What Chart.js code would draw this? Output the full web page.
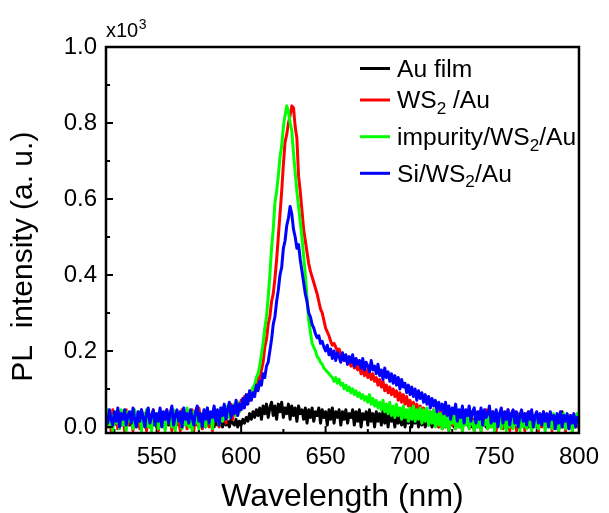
<!DOCTYPE html>
<html>
<head>
<meta charset="utf-8">
<title>PL spectra</title>
<script src="https://cdn.jsdelivr.net/npm/chart.js@4.4.1/dist/chart.umd.min.js"></script>
<style>
    body { margin: 0; background: #fff; }
    #wrap { width: 609px; height: 513px; }
</style>
</head>
<body>
<div id="wrap"><canvas id="pl" width="609" height="513"></canvas></div>
<script>
// длина волны, нм (шаг 1 нм)
const wavelengths = Array.from({ length: 281 }, (_, i) => 520 + i)

// интенсивность, x10^3 (по 10 нм в строке)
const auFilm = [
    0.01, 0.02, 0.0, 0.015, 0.005, 0.02, 0.01, 0.0, 0.015, 0.005,
    0.02, 0.0, 0.01, 0.02, 0.005, 0.015, 0.0, 0.02, 0.01, 0.005,
    0.015, 0.0, 0.02, 0.005, 0.015, 0.01, 0.0, 0.02, 0.005, 0.015,
    0.0, 0.02, 0.01, 0.005, 0.015, 0.0, 0.02, 0.005, 0.015, 0.01,
    0.0, 0.015, 0.02, 0.005, 0.01, 0.0, 0.02, 0.01, 0.005, 0.015,
    0.0, 0.02, 0.005, 0.015, 0.01, 0.0, 0.02, 0.005, 0.015, 0.0,
    0.02, 0.01, 0.005, 0.015, 0.0, 0.02, 0.005, 0.015, 0.01, 0.0,
    0.02, 0.005, 0.015, 0.0, 0.02, 0.01, 0.005, 0.02, 0.0, 0.015,
    0.005, 0.02, 0.01, 0.025, 0.015, 0.035, 0.02, 0.04, 0.025, 0.045,
    0.03, 0.05, 0.02, 0.055, 0.035, 0.06, 0.025, 0.05, 0.065, 0.03,
    0.055, 0.02, 0.06, 0.04, 0.065, 0.025, 0.05, 0.035, 0.06, 0.02,
    0.055, 0.03, 0.05, 0.015, 0.055, 0.035, 0.045, 0.02, 0.05, 0.01,
    0.045, 0.025, 0.05, 0.015, 0.04, 0.03, 0.05, 0.01, 0.045, 0.025,
    0.04, 0.005, 0.045, 0.02, 0.05, 0.01, 0.04, 0.025, 0.045, 0.005,
    0.04, 0.02, 0.045, 0.01, 0.035, 0.025, 0.045, 0.005, 0.04, 0.015,
    0.045, 0.0, 0.035, 0.02, 0.04, 0.005, 0.045, 0.015, 0.035, 0.0,
    0.04, 0.015, 0.035, 0.005, 0.045, 0.01, 0.035, 0.0, 0.04, 0.015,
    0.03, 0.0, 0.035, 0.01, 0.03, 0.005, 0.035, 0.0, 0.03, 0.01,
    0.035, 0.0, 0.025, 0.01, 0.03, 0.0, 0.025, 0.005, 0.03, 0.0,
    0.02, 0.005, 0.025, 0.0, 0.02, 0.005, 0.015, 0.0, 0.02, 0.005,
    0.015, 0.0, 0.01, 0.02, 0.005, 0.015, 0.0, 0.01, 0.02, 0.005,
    0.015, 0.0, 0.02, 0.01, 0.005, 0.015, 0.0, 0.02, 0.005, 0.01,
    0.0, 0.015, 0.02, 0.005, 0.01, 0.0, 0.015, 0.005, 0.02, 0.01,
    0.0, 0.015, 0.005, 0.02, 0.01, 0.0, 0.015, 0.02, 0.005, 0.01,
    0.0, 0.02, 0.01, 0.005, 0.015, 0.0, 0.02, 0.005, 0.015, 0.01,
    0.0, 0.015, 0.02, 0.005, 0.01, 0.0, 0.02, 0.01, 0.005, 0.015,
    0.0, 0.02, 0.005, 0.015, 0.01, 0.0, 0.015, 0.005, 0.02, 0.0,
    0.04, 0.01, 0.015, 0.0, 0.02, 0.005, 0.015, 0.0, 0.02, 0.01,
    0.005
]
const ws2Au = [
    0.04, 0.0, 0.03, -0.01, 0.045, 0.015, 0.035, -0.005, 0.04, 0.01,
    0.03, -0.01, 0.045, 0.005, 0.035, 0.02, -0.01, 0.04, 0.01, 0.03,
    -0.005, 0.045, 0.01, 0.035, -0.01, 0.04, 0.02, 0.0, 0.045, 0.01,
    0.03, -0.01, 0.04, 0.005, 0.035, -0.005, 0.045, 0.015, 0.03, -0.01,
    0.04, 0.0, 0.035, 0.015, -0.01, 0.045, 0.005, 0.03, -0.005, 0.04,
    0.01, 0.045, -0.01, 0.035, 0.005, 0.05, 0.02, -0.005, 0.04, 0.01,
    0.045, 0.0, 0.035, -0.01, 0.05, 0.015, 0.04, 0.0, 0.045, 0.02,
    0.055, 0.01, 0.045, 0.025, 0.06, 0.02, 0.055, 0.035, 0.065, 0.04,
    0.07, 0.05, 0.08, 0.06, 0.085, 0.07, 0.095, 0.085, 0.11, 0.105,
    0.13, 0.12, 0.15, 0.17, 0.21, 0.23, 0.27, 0.29, 0.33, 0.35,
    0.39, 0.44, 0.50, 0.56, 0.62, 0.69, 0.75, 0.77, 0.80, 0.82,
    0.845, 0.84, 0.79, 0.76, 0.66, 0.62, 0.57, 0.52, 0.49, 0.46,
    0.43, 0.41, 0.395, 0.38, 0.365, 0.35, 0.33, 0.31, 0.30, 0.28,
    0.26, 0.25, 0.24, 0.225, 0.215, 0.22, 0.21, 0.20, 0.205, 0.19,
    0.19, 0.175, 0.185, 0.165, 0.175, 0.16, 0.17, 0.155, 0.165, 0.15,
    0.16, 0.14, 0.155, 0.135, 0.15, 0.13, 0.145, 0.125, 0.14, 0.12,
    0.13, 0.11, 0.125, 0.105, 0.12, 0.095, 0.11, 0.09, 0.105, 0.085,
    0.10, 0.08, 0.095, 0.07, 0.09, 0.065, 0.085, 0.06, 0.08, 0.055,
    0.07, 0.045, 0.065, 0.04, 0.06, 0.035, 0.055, 0.03, 0.05, 0.025,
    0.045, 0.015, 0.04, 0.01, 0.045, 0.005, 0.035, 0.0, 0.04, -0.005,
    0.035, 0.01, 0.04, -0.01, 0.03, 0.005, 0.035, -0.005, 0.04, 0.0,
    0.03, -0.01, 0.035, 0.01, 0.04, -0.005, 0.03, 0.015, -0.01, 0.035,
    0.005, 0.04, -0.01, 0.03, 0.01, 0.045, -0.005, 0.035, 0.0, 0.04,
    0.015, -0.01, 0.035, 0.005, 0.04, -0.005, 0.03, 0.01, 0.045, -0.01,
    0.03, 0.005, 0.04, -0.01, 0.035, 0.0, 0.03, 0.01, -0.01, 0.035,
    0.005, 0.04, -0.005, 0.03, 0.01, 0.035, -0.01, 0.03, 0.0, 0.04,
    -0.005, 0.03, 0.01, 0.035, -0.01, 0.025, 0.005, 0.03, -0.01, 0.035,
    0.0, 0.03, -0.01, 0.025, 0.005, 0.03, -0.01, 0.025, 0.0, 0.03,
    -0.005
]
const impurityWs2Au = [
    0.02, 0.045, 0.0, 0.03, -0.01, 0.04, 0.01, 0.035, -0.005, 0.045,
    0.005, 0.03, -0.01, 0.04, 0.015, 0.035, -0.005, 0.045, 0.0, 0.03,
    0.04, -0.01, 0.035, 0.01, 0.045, 0.0, 0.03, -0.01, 0.04, 0.015,
    0.035, -0.005, 0.045, 0.005, 0.03, -0.01, 0.04, 0.01, 0.035, 0.0,
    0.045, -0.01, 0.03, 0.015, 0.04, -0.005, 0.035, 0.005, 0.05, 0.0,
    0.03, -0.01, 0.04, 0.01, 0.045, -0.005, 0.035, 0.015, 0.04, 0.0,
    0.05, 0.01, 0.035, -0.005, 0.045, 0.02, 0.04, 0.005, 0.05, 0.015,
    0.045, 0.02, 0.055, 0.025, 0.05, 0.035, 0.06, 0.03, 0.065, 0.04,
    0.055, 0.07, 0.06, 0.08, 0.075, 0.09, 0.085, 0.105, 0.11, 0.13,
    0.14, 0.16, 0.19, 0.22, 0.26, 0.29, 0.34, 0.40, 0.47, 0.52,
    0.59, 0.62, 0.66, 0.71, 0.74, 0.79, 0.82, 0.845, 0.83, 0.80,
    0.78, 0.72, 0.67, 0.62, 0.58, 0.54, 0.50, 0.45, 0.40, 0.34,
    0.28, 0.25, 0.22, 0.21, 0.20, 0.185, 0.18, 0.17, 0.165, 0.155,
    0.15, 0.145, 0.14, 0.135, 0.13, 0.12, 0.13, 0.115, 0.125, 0.11,
    0.115, 0.10, 0.11, 0.095, 0.105, 0.09, 0.10, 0.085, 0.095, 0.08,
    0.09, 0.075, 0.085, 0.07, 0.08, 0.065, 0.085, 0.06, 0.075, 0.055,
    0.07, 0.05, 0.065, 0.045, 0.07, 0.04, 0.06, 0.035, 0.065, 0.03,
    0.055, 0.025, 0.06, 0.03, 0.05, 0.02, 0.055, 0.025, 0.045, 0.015,
    0.05, 0.02, 0.055, 0.015, 0.045, 0.02, 0.05, 0.01, 0.045, 0.015,
    0.05, 0.005, 0.04, 0.01, 0.045, 0.0, 0.04, 0.005, 0.035, -0.005,
    0.03, 0.0, 0.035, -0.01, 0.025, 0.01, 0.03, -0.005, 0.035, 0.0,
    0.025, -0.01, 0.03, 0.005, 0.035, -0.005, 0.025, 0.01, -0.01, 0.03,
    0.0, 0.035, -0.01, 0.025, 0.005, 0.03, -0.005, 0.035, 0.0, 0.025,
    -0.01, 0.03, 0.005, 0.035, -0.005, 0.025, 0.01, -0.01, 0.03, 0.0,
    0.035, -0.005, 0.025, 0.005, 0.03, -0.01, 0.025, 0.0, 0.035, -0.005,
    0.03, 0.005, -0.01, 0.03, 0.0, 0.035, -0.005, 0.025, 0.01, 0.03,
    -0.01, 0.025, 0.0, 0.03, -0.005, 0.035, 0.005, 0.03, -0.01, 0.025,
    0.0, 0.035, -0.005, 0.03, 0.005, 0.025, -0.01, 0.03, 0.0, 0.035,
    0.005
]
const siWs2Au = [
    0.03, 0.01, 0.045, 0.02, 0.005, 0.04, 0.015, 0.05, 0.0, 0.035,
    0.02, 0.045, 0.005, 0.03, 0.04, 0.01, 0.05, 0.02, 0.0, 0.04,
    0.015, 0.045, 0.025, 0.0, 0.035, 0.05, 0.01, 0.03, 0.045, 0.005,
    0.035, 0.015, 0.05, 0.0, 0.04, 0.02, 0.045, 0.01, 0.035, 0.055,
    0.005, 0.03, 0.045, 0.015, 0.04, 0.0, 0.05, 0.02, 0.035, 0.01,
    0.045, 0.025, 0.005, 0.04, 0.055, 0.015, 0.035, 0.0, 0.045, 0.02,
    0.05, 0.01, 0.04, 0.025, 0.055, 0.015, 0.045, 0.005, 0.05, 0.03,
    0.06, 0.02, 0.045, 0.065, 0.025, 0.055, 0.035, 0.07, 0.03, 0.06,
    0.045, 0.075, 0.05, 0.085, 0.06, 0.095, 0.07, 0.09, 0.08, 0.11,
    0.095, 0.12, 0.11, 0.14, 0.13, 0.16, 0.17, 0.20, 0.23, 0.27,
    0.29, 0.33, 0.36, 0.40, 0.42, 0.47, 0.49, 0.53, 0.55, 0.58,
    0.56, 0.52, 0.50, 0.47, 0.48, 0.44, 0.41, 0.38, 0.35, 0.33,
    0.30, 0.29, 0.27, 0.26, 0.245, 0.235, 0.24, 0.22, 0.225, 0.21,
    0.20, 0.215, 0.19, 0.205, 0.18, 0.20, 0.175, 0.195, 0.185, 0.17,
    0.195, 0.175, 0.19, 0.165, 0.185, 0.17, 0.19, 0.16, 0.18, 0.165,
    0.175, 0.155, 0.18, 0.15, 0.17, 0.16, 0.145, 0.175, 0.15, 0.16,
    0.14, 0.165, 0.135, 0.15, 0.125, 0.155, 0.13, 0.145, 0.12, 0.14,
    0.115, 0.135, 0.11, 0.13, 0.10, 0.125, 0.105, 0.115, 0.09, 0.11,
    0.085, 0.105, 0.08, 0.10, 0.07, 0.095, 0.075, 0.09, 0.065, 0.085,
    0.06, 0.08, 0.05, 0.075, 0.055, 0.07, 0.04, 0.065, 0.045, 0.06,
    0.035, 0.065, 0.03, 0.055, 0.02, 0.05, 0.035, 0.06, 0.015, 0.045,
    0.025, 0.055, 0.01, 0.045, 0.03, 0.055, 0.015, 0.04, 0.05, 0.01,
    0.04, 0.02, 0.05, 0.005, 0.045, 0.025, 0.035, 0.055, 0.01, 0.04,
    0.015, 0.045, 0.0, 0.035, 0.05, 0.01, 0.04, 0.02, 0.045, 0.005,
    0.035, 0.045, 0.01, 0.04, 0.0, 0.03, 0.045, 0.015, 0.035, 0.005,
    0.04, 0.02, 0.045, 0.0, 0.03, 0.04, 0.01, 0.035, 0.005, 0.04,
    0.015, 0.035, 0.0, 0.04, 0.02, 0.03, -0.005, 0.035, 0.01, 0.04,
    0.0, 0.03, 0.015, 0.035, -0.005, 0.03, 0.01, 0.035, 0.0, 0.025,
    0.01
]

// подписи осей
const xMajorTicks = [550, 600, 650, 700, 750, 800]
const xMinorTicks = [525, 575, 625, 675, 725, 775]
const yMajorTicks = [0, 0.2, 0.4, 0.6, 0.8, 1.0]
const yMinorTicks = [0.1, 0.3, 0.5, 0.7, 0.9]

// легенда: [текст, индекс, хвост]
const legendItems = [
    { parts: ["Au film"], color: "#000000" },
    { parts: ["WS", "2", " /Au"], color: "#ff0000" },
    { parts: ["impurity/WS", "2", "/Au"], color: "#00ff00" },
    { parts: ["Si/WS", "2", "/Au"], color: "#0000ff" }
]

const FONT = "'Liberation Sans', Arial, sans-serif"

const toPoints = (values) => wavelengths.map((x, i) => ({ x: x, y: values[i] }))

const makeDataset = (label, values, color, order) => ({
    label: label,
    data: toPoints(values),
    borderColor: color,
    borderWidth: 3,
    borderJoinStyle: "round",
    pointRadius: 0,
    tension: 0,
    fill: false,
    order: order
})

// рамка, засечки внутрь, x10^3 и легенда
const framePlugin = {
    id: "frame",
    beforeDatasetsDraw(chart) {
        const { ctx, chartArea: a, scales } = chart
        ctx.save()
        ctx.strokeStyle = "#000"
        ctx.lineWidth = 2
        ctx.beginPath()
        xMajorTicks.forEach(v => {
            const px = scales.x.getPixelForValue(v)
            ctx.moveTo(px, a.bottom); ctx.lineTo(px, a.bottom - 7)
        })
        xMinorTicks.forEach(v => {
            const px = scales.x.getPixelForValue(v)
            ctx.moveTo(px, a.bottom); ctx.lineTo(px, a.bottom - 4)
        })
        ctx.stroke()
        ctx.restore()
    },
    afterDatasetsDraw(chart) {
        const { ctx, chartArea: a, scales } = chart
        ctx.save()
        ctx.strokeStyle = "#000"
        ctx.lineWidth = 2
        ctx.beginPath()
        yMajorTicks.forEach(v => {
            const py = scales.y.getPixelForValue(v)
            ctx.moveTo(a.left, py); ctx.lineTo(a.left + 7, py)
        })
        yMinorTicks.forEach(v => {
            const py = scales.y.getPixelForValue(v)
            ctx.moveTo(a.left, py); ctx.lineTo(a.left + 4, py)
        })
        ctx.stroke()

        ctx.lineWidth = 2.5
        ctx.strokeRect(a.left, a.top, a.right - a.left, a.bottom - a.top)

        // множитель оси Y
        ctx.fillStyle = "#000"
        ctx.textBaseline = "alphabetic"
        ctx.textAlign = "left"
        ctx.font = `20px ${FONT}`
        ctx.fillText("x10", a.left, 37)
        const w = ctx.measureText("x10").width
        ctx.font = `14px ${FONT}`
        ctx.fillText("3", a.left + w + 0.5, 29)

        // легенда
        const rows = [68.5, 100, 136.7, 173.3]
        legendItems.forEach((item, i) => {
            const y = rows[i]
            ctx.strokeStyle = item.color
            ctx.lineWidth = 3
            ctx.beginPath()
            ctx.moveTo(360, y); ctx.lineTo(390, y)
            ctx.stroke()

            ctx.save()
            ctx.translate(397, 0)
            ctx.scale(1.07, 1)
            let x = 0
            item.parts.forEach((t, k) => {
                const sub = k === 1
                ctx.font = sub ? `16px ${FONT}` : `23px ${FONT}`
                ctx.fillStyle = "#000"
                ctx.fillText(t, x, sub ? y + 14 : y + 8.3)
                x += ctx.measureText(t).width
            })
            ctx.restore()
        })
        ctx.restore()
    }
}

new Chart(document.getElementById("pl"), {
    type: "line",
    data: {
        datasets: [
            makeDataset("Au film", auFilm, "#000000", 4),
            makeDataset("WS2 /Au", ws2Au, "#ff0000", 3),
            makeDataset("impurity/WS2/Au", impurityWs2Au, "#00ff00", 2),
            makeDataset("Si/WS2/Au", siWs2Au, "#0000ff", 1)
        ]
    },
    options: {
        responsive: false,
        animation: false,
        layout: { padding: { left: 0, top: 47, right: 22, bottom: 0 } },
        plugins: {
            legend: { display: false },
            tooltip: { enabled: false }
        },
        scales: {
            x: {
                type: "linear",
                min: 520,
                max: 800,
                grid: { display: false, drawTicks: false },
                border: { display: false },
                afterBuildTicks: (scale) => {
                    scale.ticks = xMajorTicks.map(v => ({ value: v }))
                },
                afterFit: (scale) => { scale.height = 80 },
                ticks: {
                    autoSkip: false,
                    maxRotation: 0,
                    padding: 10,
                    color: "#000",
                    font: { family: FONT, size: 24 },
                    callback: (v) => String(v)
                },
                title: {
                    display: true,
                    text: "Wavelength (nm)",
                    color: "#000",
                    padding: 0,
                    font: { family: FONT, size: 32, lineHeight: 1.0 }
                }
            },
            y: {
                min: -0.016,
                max: 1.0,
                grid: { display: false, drawTicks: false },
                border: { display: false },
                afterBuildTicks: (scale) => {
                    scale.ticks = yMajorTicks.map(v => ({ value: v }))
                },
                afterFit: (scale) => { scale.width = 106 },
                ticks: {
                    padding: 9,
                    color: "#000",
                    font: { family: FONT, size: 24 },
                    callback: (v) => Number(v).toFixed(1)
                },
                title: {
                    display: true,
                    text: "PL  intensity (a. u.)    ",
                    color: "#000",
                    padding: { top: 6, bottom: 0 },
                    font: { family: FONT, size: 30 }
                }
            }
        }
    },
    plugins: [framePlugin]
})
</script>
</body>
</html>
